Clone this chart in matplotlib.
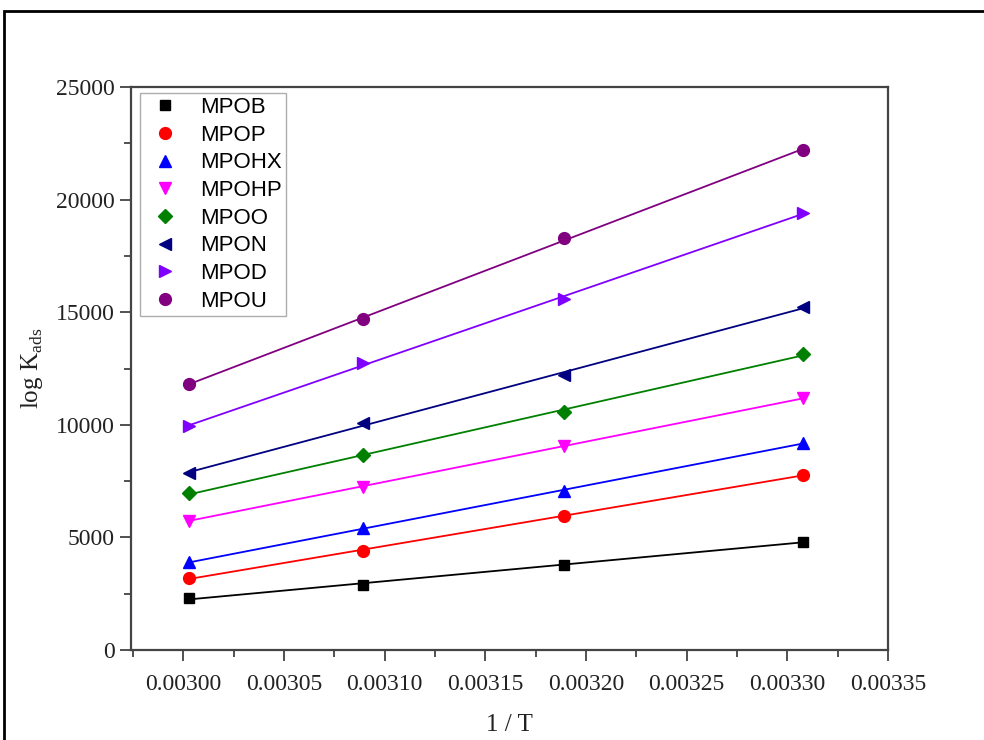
import numpy as np
import matplotlib.pyplot as plt
from matplotlib.patches import Rectangle
from matplotlib.ticker import MultipleLocator, FormatStrFormatter

# 1/T values (K^-1)
inv_T = [0.003003, 0.003089, 0.003189, 0.003308]

names = ['MPOB', 'MPOP', 'MPOHX', 'MPOHP', 'MPOO', 'MPON', 'MPOD', 'MPOU']
mpob = [2300, 2900, 3780, 4810]
mpop = [3200, 4400, 5950, 7780]
mpohx = [3900, 5400, 7060, 9200]
mpohp = [5750, 7250, 9060, 11180]
mpoo = [6950, 8650, 10590, 13140]
mpon = [7850, 10100, 12200, 15220]
mpod = [9950, 12750, 15580, 19420]
mpou = [11800, 14700, 18300, 22200]

series = [mpob, mpop, mpohx, mpohp, mpoo, mpon, mpod, mpou]
colors = ['#000000', '#ff0000', '#0000ff', '#ff00ff', '#008000', '#000080', '#8000ff', '#800080']
markers = ['s', 'o', '^', 'v', 'D', '<', '>', 'o']
msizes = [7.5, 8.5, 8.5, 8.5, 7, 8.5, 8.5, 8.5]

serif = ['Liberation Serif', 'DejaVu Serif']
sans = ['Liberation Sans', 'DejaVu Sans']

fig = plt.figure(figsize=(9.84, 7.4), dpi=100)
ax = fig.add_axes([131/984, 1-650/740, (888-131)/984, (650-87)/740])

x = np.array(inv_T)
for vals, c, m, ms, nm in zip(series, colors, markers, msizes, names):
    ax.plot(x, vals, linestyle='none', marker=m, color=c, markersize=ms, label=nm)
    k, b = np.polyfit(x, vals, 1)
    ax.plot(x, k*x + b, color=c, lw=1.3)

ax.set_xlim(0.002974, 0.00335)
ax.set_ylim(0, 25000)
ax.xaxis.set_major_locator(MultipleLocator(0.00005))
ax.xaxis.set_minor_locator(MultipleLocator(0.000025))
ax.xaxis.set_major_formatter(FormatStrFormatter('%.5f'))
ax.yaxis.set_major_locator(MultipleLocator(5000))
ax.yaxis.set_minor_locator(MultipleLocator(2500))
ax.tick_params(which='major', direction='out', length=8, width=1.2, labelsize=17,
               colors='#333333', labelcolor='#222222')
ax.tick_params(axis='x', which='major', pad=9)
ax.tick_params(which='minor', direction='out', length=5, width=1.2, colors='#333333')
for lab in ax.get_xticklabels() + ax.get_yticklabels():
    lab.set_family(serif)
for sp in ax.spines.values():
    sp.set_linewidth(1.6)
    sp.set_color('#444444')

ax.set_xlabel('1 / T', family=serif, fontsize=18, labelpad=14, color='#222222')
ax.set_ylabel('log K$_{\\mathregular{ads}}$', family=serif, fontsize=18, labelpad=8, color='#222222')

leg = ax.legend(loc='upper left', bbox_to_anchor=(0.012, 0.99), prop={'family': sans, 'size': 16},
                frameon=True, fancybox=False, edgecolor='#999999', labelspacing=0.3,
                handletextpad=0.7, borderpad=0.2, handlelength=1.8, borderaxespad=0.0)
leg.get_frame().set_linewidth(1.0)

# outer frame of the original figure
fig.patches.append(Rectangle((4/984, -0.1), 1.2, 1.1 - 11/740, transform=fig.transFigure,
                             fill=False, edgecolor='black', lw=2))

fig.savefig('out.png', dpi=100)
